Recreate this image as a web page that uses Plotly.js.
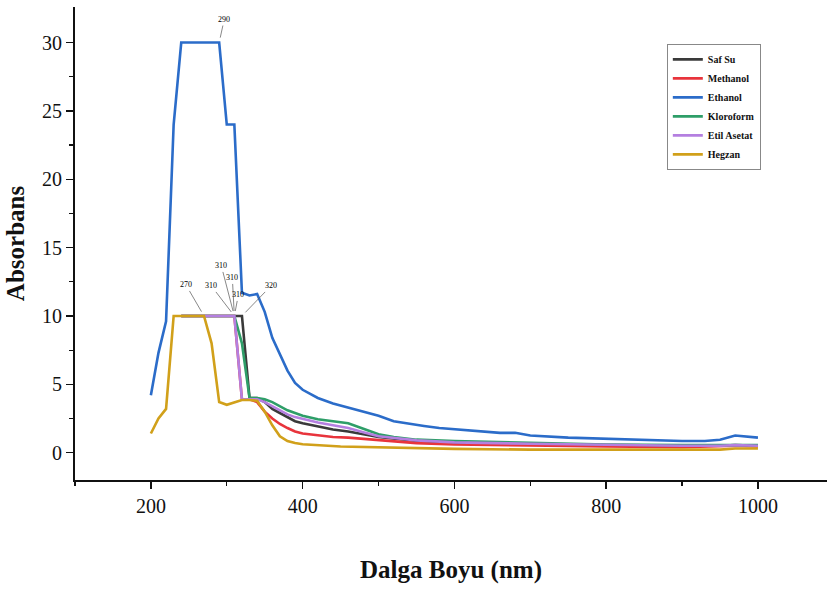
<!DOCTYPE html>
<html>
<head>
<meta charset="utf-8">
<script src="https://cdn.plot.ly/plotly-3.0.1.min.js"></script>
<style>html,body{margin:0;padding:0;background:#fff;}#chart{width:827px;height:589px;}</style>
</head>
<body>
<div id="chart"></div>
<script>
// ---- data ----
const seriesNames = ["Saf Su", "Methanol", "Ethanol", "Kloroform", "Etil Asetat", "Hegzan"];
const seriesColors = ["#3a3a3a", "#e8343c", "#2b6cc9", "#2e9e68", "#b47fe0", "#d1a01a"];

const safSuX = [240,250,260,270,280,290,300,310,320,330,340,350,360,370,380,390,400,420,440,460,480,500,550,600,700,800,900,950,970,1000];
const safSuY = [10,10,10,10,10,10,10,10,10,4.0,4.0,3.7,3.2,2.9,2.6,2.3,2.15,1.9,1.7,1.55,1.35,1.15,0.85,0.7,0.6,0.55,0.5,0.5,0.55,0.5];

const methanolX = [240,250,260,270,280,290,300,310,320,330,340,350,360,370,380,390,400,420,440,460,480,500,550,600,700,800,900,950,970,1000];
const methanolY = [10,10,10,10,10,10,10,10,3.9,3.9,3.7,3.0,2.5,2.1,1.8,1.55,1.4,1.25,1.15,1.1,1.0,0.9,0.7,0.6,0.5,0.45,0.4,0.45,0.5,0.45];

const ethanolX = [200,210,220,230,240,250,260,270,280,290,300,310,320,330,340,350,360,370,380,390,400,410,420,440,460,480,500,520,540,560,580,600,620,640,660,680,700,750,800,850,900,930,950,970,1000];
const ethanolY = [4.2,7.3,9.6,24,30,30,30,30,30,30,24,24,11.7,11.5,11.6,10.3,8.4,7.2,6.0,5.1,4.6,4.3,4.0,3.6,3.3,3.0,2.7,2.3,2.1,1.95,1.8,1.7,1.6,1.5,1.45,1.45,1.25,1.1,1.0,0.9,0.85,0.85,0.95,1.25,1.1];

const kloroformX = [240,250,260,270,280,290,300,310,320,330,340,350,360,370,380,390,400,420,440,460,480,500,520,550,600,700,800,900,950,970,1000];
const kloroformY = [10,10,10,10,10,10,10,10,8.0,4.0,4.0,3.9,3.7,3.4,3.1,2.9,2.7,2.45,2.3,2.15,1.75,1.35,1.15,0.95,0.85,0.7,0.6,0.55,0.55,0.6,0.55];

const etilAsetatX = [240,250,260,270,280,290,300,310,320,330,340,350,360,370,380,390,400,420,440,460,480,500,550,600,700,800,900,950,970,1000];
const etilAsetatY = [10,10,10,10,10,10,10,10,3.9,3.9,3.9,3.7,3.4,3.1,2.8,2.6,2.45,2.2,2.0,1.8,1.5,1.2,0.9,0.75,0.65,0.55,0.5,0.5,0.55,0.5];

const hegzanX = [200,210,220,230,240,250,260,270,280,290,300,310,320,330,340,350,360,370,380,390,400,450,500,600,700,800,900,950,970,1000];
const hegzanY = [1.4,2.5,3.2,10,10,10,10,10,8,3.7,3.5,3.7,3.85,3.85,3.8,3.0,2.0,1.2,0.85,0.7,0.62,0.45,0.38,0.28,0.22,0.2,0.2,0.22,0.3,0.3];

// peak labels: wavelength, absorbance, label
const peakX = [290, 270, 310, 310, 310, 310, 320];
const peakY = [30, 10, 10, 10, 10, 10, 10];
const peakText = ["290", "270", "310", "310", "310", "310", "320"];

const xTitle = "Dalga Boyu (nm)";
const yTitle = "Absorbans";

// ---- build ----
const xs = [safSuX, methanolX, ethanolX, kloroformX, etilAsetatX, hegzanX];
const ys = [safSuY, methanolY, ethanolY, kloroformY, etilAsetatY, hegzanY];
const traces = seriesNames.map((n, i) => ({
  type: "scatter", mode: "lines", name: n, x: xs[i], y: ys[i],
  line: {color: seriesColors[i], width: 2.6}
}));

const labelOffsets = [[5,-23],[-18,-31],[-23,-30],[-13,-50],[-2,-38],[4,-21],[29,-30]];
const serif = "Liberation Serif, Times New Roman, serif";
const annotations = peakText.map((t, i) => ({
  x: peakX[i], y: peakY[i], xref: "x", yref: "y", text: t,
  showarrow: true, arrowhead: 0, arrowwidth: 0.7, arrowcolor: "#555",
  ax: labelOffsets[i][0], ay: labelOffsets[i][1], standoff: 5,
  font: {family: serif, size: 8, color: "#000000"}
}));

const layout = {
  width: 827, height: 589,
  margin: {l: 75, r: 0, t: 7, b: 109},
  paper_bgcolor: "#fff", plot_bgcolor: "#fff",
  showlegend: true,
  legend: {
    x: 0.787, y: 0.922, xanchor: "left", yanchor: "top",
    bgcolor: "#fff", bordercolor: "#888", borderwidth: 1,
    font: {family: serif, size: 10, color: "#111", weight: "bold"},
    itemwidth: 30, tracegroupgap: 0
  },
  xaxis: {
    range: [100, 1091], showgrid: false, zeroline: false,
    showline: true, linecolor: "#111", linewidth: 2,
    ticks: "outside", ticklen: 7, tickwidth: 1.5, tickcolor: "#111",
    tickvals: [200, 400, 600, 800, 1000],
    minor: {tickvals: [100, 300, 500, 700, 900], ticks: "outside", ticklen: 4, tickwidth: 1.2, tickcolor: "#111"},
    tickfont: {family: serif, size: 20, color: "#111"},
    title: {text: xTitle, font: {family: serif, size: 25, color: "#111", weight: "bold"}, standoff: 44}
  },
  yaxis: {
    range: [-2, 32.6], showgrid: false, zeroline: false,
    showline: true, linecolor: "#111", linewidth: 2,
    ticks: "outside", ticklen: 7, tickwidth: 1.5, tickcolor: "#111",
    tickvals: [0, 5, 10, 15, 20, 25, 30],
    minor: {tickvals: [2.5, 7.5, 12.5, 17.5, 22.5, 27.5], ticks: "outside", ticklen: 4, tickwidth: 1.2, tickcolor: "#111"},
    tickfont: {family: serif, size: 20, color: "#111"},
    title: {text: yTitle, font: {family: serif, size: 25, color: "#111", weight: "bold"}, standoff: 10}
  },
  annotations: annotations
};

Plotly.newPlot("chart", traces, layout, {staticPlot: true, displayModeBar: false});
</script>
</body>
</html>
